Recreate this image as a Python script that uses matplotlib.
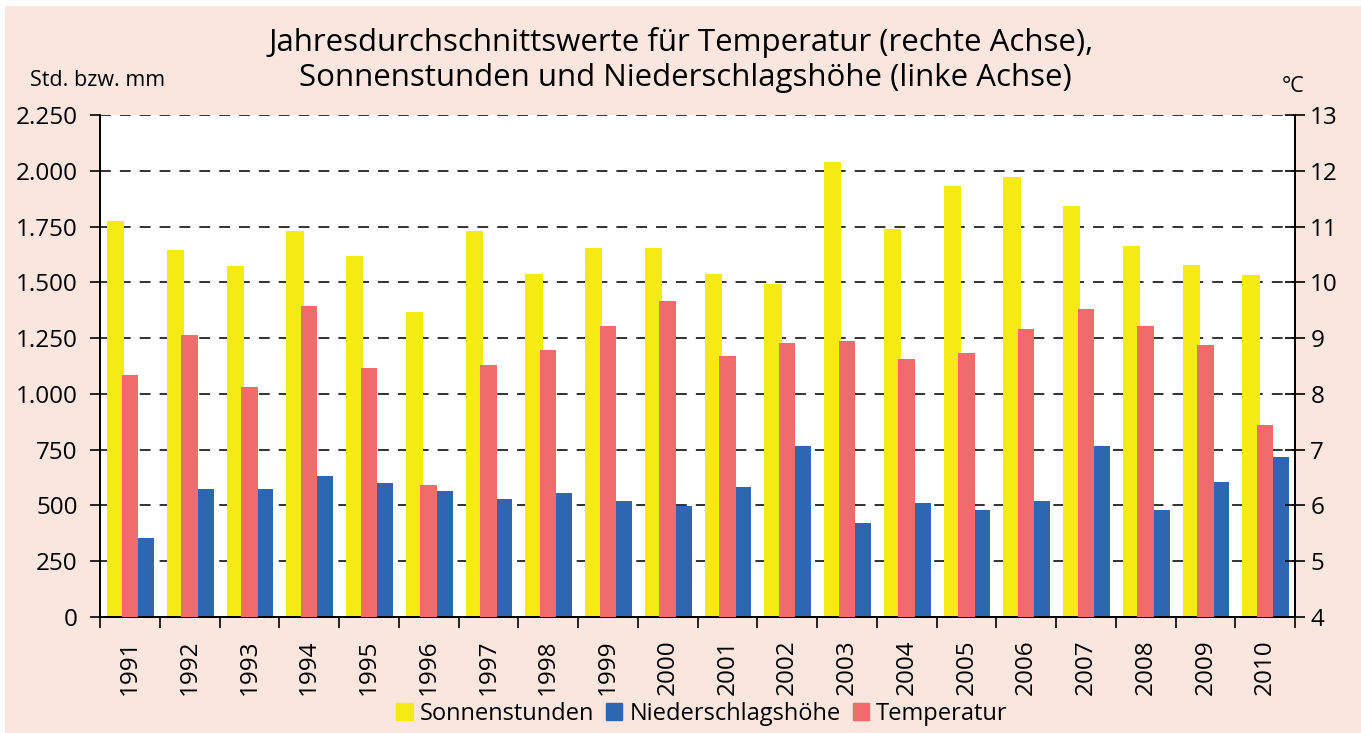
import matplotlib
matplotlib.use("Agg")
import matplotlib.pyplot as plt
import numpy as np
from matplotlib.patches import Rectangle, Patch

# Jahreswerte 1991-2010
jahre = [str(j) for j in range(1991, 2011)]
sonnenstunden = [1775, 1647, 1571, 1731, 1620, 1366, 1731, 1536, 1655, 1655,
                 1536, 1494, 2040, 1741, 1930, 1971, 1842, 1664, 1577, 1535]
niederschlag = [352, 572, 572, 633, 600, 565, 530, 556, 521, 496,
                581, 768, 420, 513, 480, 521, 768, 480, 607, 718]
temperatur = [8.34, 9.05, 8.13, 9.57, 8.47, 6.36, 8.51, 8.78, 9.22, 9.67,
              8.68, 8.91, 8.95, 8.62, 8.74, 9.16, 9.53, 9.22, 8.88, 7.45]

gelb = "#F5EA14"
blau = "#2E67B0"
rot = "#F06B6B"
hintergrund = "#F9E6DE"

plt.rcParams['font.family'] = ['Open Sans', 'DejaVu Sans']

fig = plt.figure(figsize=(13.61, 7.33), dpi=100)
fig.patch.set_facecolor("white")
fig.patches.append(Rectangle((5 / 1361, 0), 1, 1 - 6 / 733, transform=fig.transFigure,
                             facecolor=hintergrund, edgecolor="none", zorder=-10))

ax = fig.add_axes([100 / 1361, 1 - 617 / 733, 1195 / 1361, 502 / 733])
ax2 = ax.twinx()

x = np.arange(len(jahre))
ax.bar(x - 0.235, sonnenstunden, width=0.29, color=gelb, zorder=2)
ax.bar(x + 0.27, niederschlag, width=0.26, color=blau, zorder=2)
ax2.bar(x, temperatur, width=0.28, color=rot, zorder=3)

ax.set_xlim(-0.5, len(jahre) - 0.5)
ax.set_ylim(0, 2250)
ax.set_yticks(range(0, 2251, 250))
ax.set_yticklabels([f"{v:,}".replace(",", ".") for v in range(0, 2251, 250)])
ax2.set_ylim(4, 13)
ax2.set_yticks(range(4, 14))

ax.set_axisbelow(True)
ax.yaxis.grid(True, linestyle=(0, (6, 5)), color="#222222", linewidth=1.3)
ax.set_facecolor("white")

# Kategorien-Striche zwischen den Jahren
ax.set_xticks(np.arange(-0.5, len(jahre), 1))
ax.set_xticklabels([])
ax.set_xticks(x, minor=True)
ax.set_xticklabels(jahre, minor=True, rotation=90, fontsize=17.5)
ax.tick_params(axis="x", which="minor", length=0, pad=16)
ax.tick_params(axis="x", which="major", length=8, width=1.2, direction="out")
ax.tick_params(axis="y", length=7, width=1.2, direction="out", labelsize=17.5, pad=9)
ax2.tick_params(axis="y", length=14, width=1.2, direction="inout", labelsize=17.5, pad=4)

for a in (ax, ax2):
    a.spines["top"].set_visible(False)
    for s in ("left", "right", "bottom"):
        a.spines[s].set_linewidth(1.3)

fig.text(681 / 1361, 1 - 42 / 733, "Jahresdurchschnittswerte für Temperatur (rechte Achse),",
         ha="center", va="center", fontsize=22.5)
fig.text(685 / 1361, 1 - 78 / 733, "Sonnenstunden und Niederschlagshöhe (linke Achse)",
         ha="center", va="center", fontsize=22.5)
fig.text(30 / 1361, 1 - 80 / 733, "Std. bzw. mm", ha="left", va="center", fontsize=15.5)
fig.text(1293 / 1361, 1 - 86 / 733, "°C", ha="center", va="center", fontsize=15.5)

handles = [Patch(color=gelb), Patch(color=blau), Patch(color=rot)]
fig.legend(handles, ["Sonnenstunden", "Niederschlagshöhe", "Temperatur"],
           loc="center", bbox_to_anchor=(702 / 1361, 1 - 714 / 733), ncol=3, frameon=False,
           fontsize=17, handlelength=0.7, handleheight=0.7, handletextpad=0.3,
           columnspacing=0.5)

fig.savefig("out.png", dpi=100, facecolor=fig.get_facecolor())
